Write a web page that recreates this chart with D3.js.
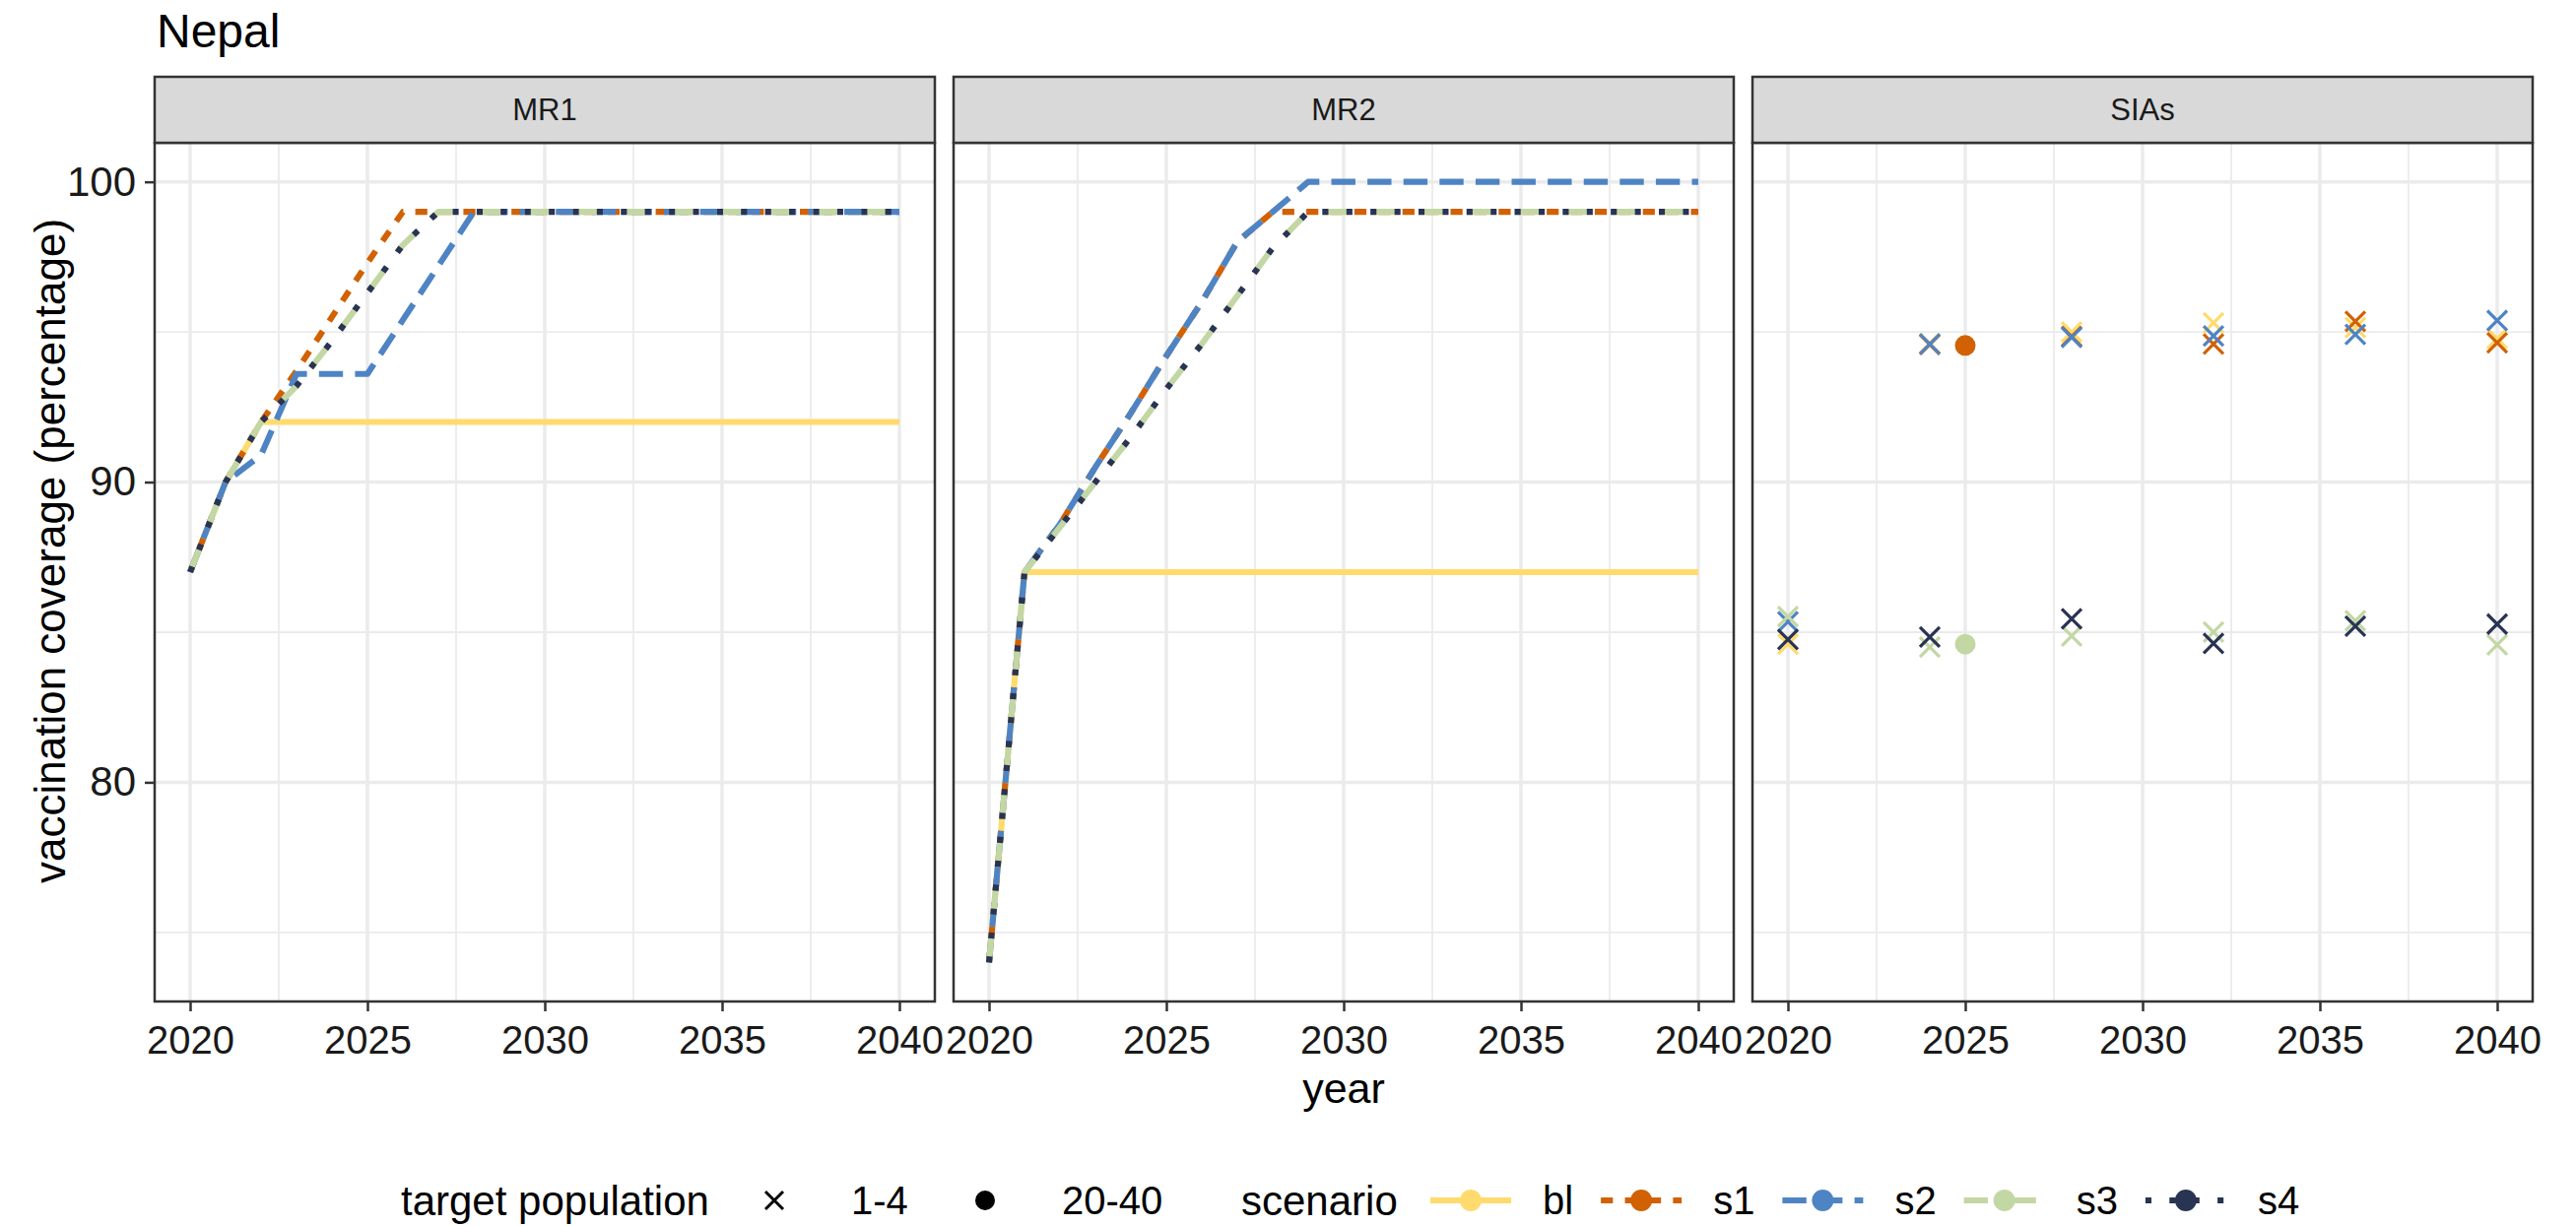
<!DOCTYPE html>
<html>
<head>
<meta charset="utf-8">
<script src="https://cdn.jsdelivr.net/npm/d3@7"></script>
<style>
  body { margin: 0; background: #fff; }
  svg { display: block; }
  text { font-family: "Liberation Sans", Arial, Helvetica, sans-serif; }
</style>
</head>
<body>
<svg id="chart" width="2615" height="1245"></svg>
<script>
// ---- data -------------------------------------------------------------
const country = "Nepal";
const panels = ["MR1", "MR2", "SIAs"];
const scenarios = ["bl", "s1", "s2", "s3", "s4"];
const targetGroups = ["1-4", "20-40"];
const years = [2020, 2021, 2022, 2023, 2024, 2025, 2026, 2027, 2028, 2029, 2030,
               2031, 2032, 2033, 2034, 2035, 2036, 2037, 2038, 2039, 2040];
const xTicks = [2020, 2025, 2030, 2035, 2040];
const yTicks = [80, 90, 100];

// routine first dose (MR1) coverage by scenario
const mr1Bl = [87, 90, 92, 92, 92, 92, 92, 92, 92, 92, 92, 92, 92, 92, 92, 92, 92, 92, 92, 92, 92];
const mr1S1 = [87, 90, 92, 93.7, 95.5, 97.3, 99, 99, 99, 99, 99, 99, 99, 99, 99, 99, 99, 99, 99, 99, 99];
const mr1S2 = [87, 90, 90.9, 93.6, 93.6, 93.6, 95.4, 97.2, 99, 99, 99, 99, 99, 99, 99, 99, 99, 99, 99, 99, 99];
const mr1S3 = [87, 90, 92, 93.2, 94.7, 96.3, 97.9, 99, 99, 99, 99, 99, 99, 99, 99, 99, 99, 99, 99, 99, 99];
const mr1S4 = [87, 90, 92, 93.2, 94.7, 96.3, 97.9, 99, 99, 99, 99, 99, 99, 99, 99, 99, 99, 99, 99, 99, 99];

// routine second dose (MR2) coverage by scenario
const mr2Bl = [74, 87, 87, 87, 87, 87, 87, 87, 87, 87, 87, 87, 87, 87, 87, 87, 87, 87, 87, 87, 87];
const mr2S1 = [74, 87, 88.6, 90.5, 92.3, 94.2, 96.0, 98.0, 99, 99, 99, 99, 99, 99, 99, 99, 99, 99, 99, 99, 99];
const mr2S2 = [74, 87, 88.6, 90.5, 92.3, 94.2, 96.0, 98.0, 99, 100, 100, 100, 100, 100, 100, 100, 100, 100, 100, 100, 100];
const mr2S3 = [74, 87, 88.5, 90.0, 91.5, 93.1, 94.6, 96.2, 97.8, 99, 99, 99, 99, 99, 99, 99, 99, 99, 99, 99, 99];
const mr2S4 = [74, 87, 88.5, 90.0, 91.5, 93.1, 94.6, 96.2, 97.8, 99, 99, 99, 99, 99, 99, 99, 99, 99, 99, 99, 99];

// supplementary immunisation activities: [year, target population, coverage]
const siaBl = [[2020, "1-4", 84.6], [2024, "1-4", 94.62], [2028, "1-4", 95.0], [2032, "1-4", 95.3], [2036, "1-4", 95.15], [2040, "1-4", 94.78]];
const siaS1 = [[2024, "1-4", 94.58], [2025, "20-40", 94.55], [2028, "1-4", 94.85], [2032, "1-4", 94.6], [2036, "1-4", 95.35], [2040, "1-4", 94.64]];
const siaS2 = [[2020, "1-4", 85.35], [2024, "1-4", 94.6], [2028, "1-4", 94.82], [2032, "1-4", 94.87], [2036, "1-4", 94.92], [2040, "1-4", 95.38]];
const siaS3 = [[2020, "1-4", 85.52], [2024, "1-4", 84.5], [2025, "20-40", 84.6], [2028, "1-4", 84.87], [2032, "1-4", 85.0], [2036, "1-4", 85.38], [2040, "1-4", 84.58]];
const siaS4 = [[2020, "1-4", 84.76], [2024, "1-4", 84.84], [2028, "1-4", 85.45], [2032, "1-4", 84.63], [2036, "1-4", 85.2], [2040, "1-4", 85.27]];

// ---- styling ----------------------------------------------------------
const scenarioColors = ["#FFDB6D", "#D16103", "#4E84C4", "#C3D7A4", "#293352"];
const scenarioLty = [null, [2, 2], [4, 2], [4, 4], [1, 3]];   // R-style dash codes
const lineW = 6.1;
const dashFor = i => scenarioLty[i] ? scenarioLty[i].map(v => v * lineW).join(" ") : null;

// ---- build tables -----------------------------------------------------
const lineSeries = {
  MR1: [mr1Bl, mr1S1, mr1S2, mr1S3, mr1S4],
  MR2: [mr2Bl, mr2S1, mr2S2, mr2S3, mr2S4]
};
const siaSeries = [siaBl, siaS1, siaS2, siaS3, siaS4];

// ---- layout -----------------------------------------------------------
const svg = d3.select("#chart");
const panelLeft = 157, panelW = 792, panelGap = 19;
const stripTop = 78, panelTop = 145, panelBottom = 1017;

const x = d3.scaleLinear().domain([2019, 2041]).range([0, panelW]);
const y = d3.scaleLinear().domain([72.7, 101.3]).range([panelBottom, panelTop]);
const line = d3.line().x(d => x(d.year)).y(d => y(d.value));

const gridMajor = "#EBEBEB";
const dark = "#333333";

svg.append("rect").attr("width", 2615).attr("height", 1245).attr("fill", "#fff");

// title
svg.append("text").attr("x", 159).attr("y", 48)
  .attr("font-size", 48).attr("fill", "#000").text(country);

function crossPath(cx, cy, r) {
  return `M${cx - r},${cy - r}L${cx + r},${cy + r}M${cx - r},${cy + r}L${cx + r},${cy - r}`;
}

panels.forEach((p, pi) => {
  const g = svg.append("g").attr("transform", `translate(${panelLeft + pi * (panelW + panelGap)},0)`);

  g.append("rect").attr("x", 0).attr("y", panelTop).attr("width", panelW)
    .attr("height", panelBottom - panelTop).attr("fill", "#fff");

  // minor grid
  const minorX = xTicks.slice(0, -1).map(v => v + 2.5);
  const minorY = [75, 85, 95];
  g.selectAll(".mx").data(minorX).enter().append("line")
    .attr("x1", d => x(d)).attr("x2", d => x(d)).attr("y1", panelTop).attr("y2", panelBottom)
    .attr("stroke", gridMajor).attr("stroke-width", 1.8);
  g.selectAll(".my").data(minorY).enter().append("line")
    .attr("x1", 0).attr("x2", panelW).attr("y1", d => y(d)).attr("y2", d => y(d))
    .attr("stroke", gridMajor).attr("stroke-width", 1.8);
  // major grid
  g.selectAll(".gx").data(xTicks).enter().append("line")
    .attr("x1", d => x(d)).attr("x2", d => x(d)).attr("y1", panelTop).attr("y2", panelBottom)
    .attr("stroke", gridMajor).attr("stroke-width", 3.5);
  g.selectAll(".gy").data(yTicks).enter().append("line")
    .attr("x1", 0).attr("x2", panelW).attr("y1", d => y(d)).attr("y2", d => y(d))
    .attr("stroke", gridMajor).attr("stroke-width", 3.5);

  // data
  if (lineSeries[p]) {
    lineSeries[p].forEach((vals, si) => {
      const pts = years.map((yr, k) => ({ year: yr, value: vals[k] }));
      g.append("path").datum(pts).attr("d", line)
        .attr("fill", "none")
        .attr("stroke", scenarioColors[si])
        .attr("stroke-width", lineW)
        .attr("stroke-linejoin", "round")
        .attr("stroke-linecap", "butt")
        .attr("stroke-dasharray", dashFor(si));
    });
  } else {
    siaSeries.forEach((rows, si) => {
      rows.forEach(([yr, tgt, val]) => {
        const cx = x(yr), cy = y(val);
        if (tgt === "1-4") {
          g.append("path").attr("d", crossPath(cx, cy, 10))
            .attr("stroke", scenarioColors[si]).attr("stroke-width", 3.2).attr("fill", "none");
        } else {
          g.append("circle").attr("cx", cx).attr("cy", cy).attr("r", 10.5)
            .attr("fill", scenarioColors[si]);
        }
      });
    });
  }

  // panel border
  g.append("rect").attr("x", 0).attr("y", panelTop).attr("width", panelW)
    .attr("height", panelBottom - panelTop).attr("fill", "none")
    .attr("stroke", dark).attr("stroke-width", 2.5);

  // strip
  g.append("rect").attr("x", 0).attr("y", stripTop).attr("width", panelW)
    .attr("height", panelTop - stripTop).attr("fill", "#D9D9D9")
    .attr("stroke", dark).attr("stroke-width", 2.5);
  g.append("text").attr("x", panelW / 2).attr("y", (stripTop + panelTop) / 2)
    .attr("text-anchor", "middle").attr("dominant-baseline", "central")
    .attr("font-size", 31).attr("fill", "#1a1a1a").text(p);

  // x axis
  const xa = g.append("g").attr("transform", `translate(0,${panelBottom})`)
    .call(d3.axisBottom(x).tickValues(xTicks).tickFormat(d3.format("d")).tickSize(10).tickPadding(15));
  xa.select(".domain").remove();
  xa.selectAll(".tick line").attr("stroke", dark).attr("stroke-width", 2.5);
  xa.selectAll(".tick text").attr("font-size", 40).attr("fill", "#1a1a1a")
    .attr("font-family", "\"Liberation Sans\", Arial, sans-serif");

  if (pi === 0) {
    const ya = g.append("g").call(d3.axisLeft(y).tickValues(yTicks).tickSize(10).tickPadding(9));
    ya.select(".domain").remove();
    ya.selectAll(".tick line").attr("stroke", dark).attr("stroke-width", 2.5);
    ya.selectAll(".tick text").attr("font-size", 42).attr("fill", "#1a1a1a")
      .attr("font-family", "\"Liberation Sans\", Arial, sans-serif");
  }
});

// axis titles
const plotLeft = panelLeft, plotRight = panelLeft + 3 * panelW + 2 * panelGap;
svg.append("text").attr("x", (plotLeft + plotRight) / 2).attr("y", 1120)
  .attr("text-anchor", "middle").attr("font-size", 43).attr("fill", "#000").text("year");
svg.append("text")
  .attr("transform", `translate(66,${(stripTop + panelBottom) / 2 + 12}) rotate(-90)`)
  .attr("text-anchor", "middle").attr("font-size", 44).attr("fill", "#000")
  .text("vaccination coverage (percentage)");

// ---- legend -----------------------------------------------------------
const legY = 1219;
const leg = svg.append("g");
leg.append("text").attr("x", 407).attr("y", legY).attr("dominant-baseline", "central")
  .attr("font-size", 42).text("target population");
const shapeKeyX = [786, 1000];
targetGroups.forEach((t, i) => {
  const cx = shapeKeyX[i];
  if (t === "1-4") {
    leg.append("path").attr("d", crossPath(cx, legY, 9)).attr("stroke", "#000")
      .attr("stroke-width", 3).attr("fill", "none");
  } else {
    leg.append("circle").attr("cx", cx).attr("cy", legY).attr("r", 10).attr("fill", "#000");
  }
  leg.append("text").attr("x", cx + 78).attr("y", legY).attr("dominant-baseline", "central")
    .attr("font-size", 40).text(t);
});

leg.append("text").attr("x", 1260).attr("y", legY).attr("dominant-baseline", "central")
  .attr("font-size", 42).text("scenario");
let kx = 1452;
const keyW = 82;
scenarios.forEach((s, si) => {
  leg.append("line").attr("x1", kx).attr("x2", kx + keyW).attr("y1", legY).attr("y2", legY)
    .attr("stroke", scenarioColors[si]).attr("stroke-width", lineW)
    .attr("stroke-dasharray", dashFor(si));
  leg.append("circle").attr("cx", kx + keyW / 2).attr("cy", legY).attr("r", 11)
    .attr("fill", scenarioColors[si]);
  const t = leg.append("text").attr("x", kx + keyW + 32).attr("y", legY)
    .attr("dominant-baseline", "central").attr("font-size", 40).text(s);
  kx = kx + keyW + 32 + t.node().getComputedTextLength() + 28;
});
</script>
</body>
</html>
